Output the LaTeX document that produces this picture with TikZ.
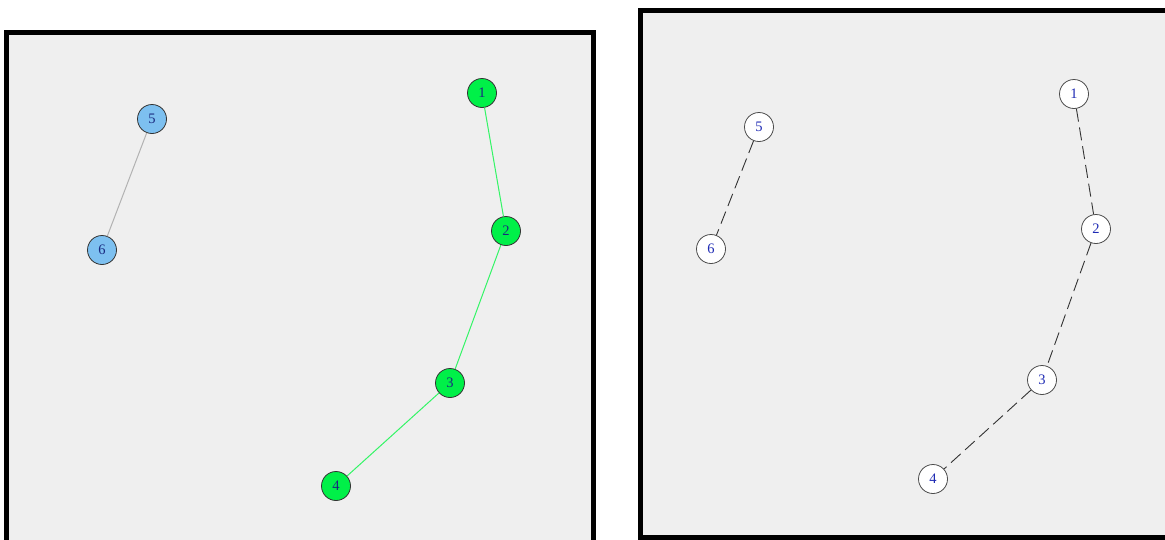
\documentclass[tikz,border=0pt]{standalone}
\usepackage{fontspec}
\setmainfont{Liberation Serif}
\begin{document}
\begin{tikzpicture}[x=1pt,y=-1pt,
  panel/.style={fill=panelgrey},
  frame/.style={line width=5pt,black},
  gnode/.style={circle,draw=black!80,line width=0.8pt,fill=nodegreen,minimum size=29pt,inner sep=0pt,font=\fontsize{14.5}{14.5}\selectfont,text=navy},
  bnode/.style={gnode,fill=nodeblue},
  wnode/.style={circle,draw=black!70,line width=0.8pt,fill=white,minimum size=29pt,inner sep=0pt,font=\fontsize{14.5}{14.5}\selectfont,text=labelblue},
  gedge/.style={draw=edgegreen,line width=1pt},
  greyedge/.style={draw=black!30,line width=1pt},
  dedge/.style={draw=black!80,line width=0.9pt,dash pattern=on 13pt off 6pt}]
\definecolor{panelgrey}{HTML}{EFEFEF}
\definecolor{nodegreen}{HTML}{00F048}
\definecolor{nodeblue}{HTML}{7DC0F0}
\definecolor{edgegreen}{HTML}{33F566}
\definecolor{navy}{HTML}{1A2A80}
\definecolor{labelblue}{HTML}{1E2AB4}
\useasboundingbox (0,0) rectangle (1165,539);
\clip (0,0) rectangle (1165,539);
\fill[white] (0,0) rectangle (1165,539);

% left panel
\fill[panelgrey] (6.5,32) rectangle (593.5,560);
\draw[frame] (6.5,560) -- (6.5,32) -- (593.5,32) -- (593.5,560);

% right panel
\fill[panelgrey] (640,10) rectangle (1175,537);
\draw[frame] (1175,10) -- (640,10) -- (640,537) -- (1175,537);

% left graph
\node[gnode] (a1) at (482,93) {1};
\node[gnode] (a2) at (506,231) {2};
\node[gnode] (a3) at (450,383) {3};
\node[gnode] (a4) at (336,486) {4};
\node[bnode] (a5) at (152,119) {5};
\node[bnode] (a6) at (102,250) {6};
\draw[gedge] (a1) -- (a2);
\draw[gedge] (a2) -- (a3);
\draw[gedge] (a3) -- (a4);
\draw[greyedge] (a5) -- (a6);

% right graph
\node[wnode] (b1) at (1074,94) {1};
\node[wnode] (b2) at (1096,229) {2};
\node[wnode] (b3) at (1042,380) {3};
\node[wnode] (b4) at (933,479) {4};
\node[wnode] (b5) at (759,127) {5};
\node[wnode] (b6) at (711,249) {6};
\draw[dedge] (b1) -- (b2);
\draw[dedge] (b2) -- (b3);
\draw[dedge] (b3) -- (b4);
\draw[dedge] (b5) -- (b6);
\end{tikzpicture}
\end{document}
